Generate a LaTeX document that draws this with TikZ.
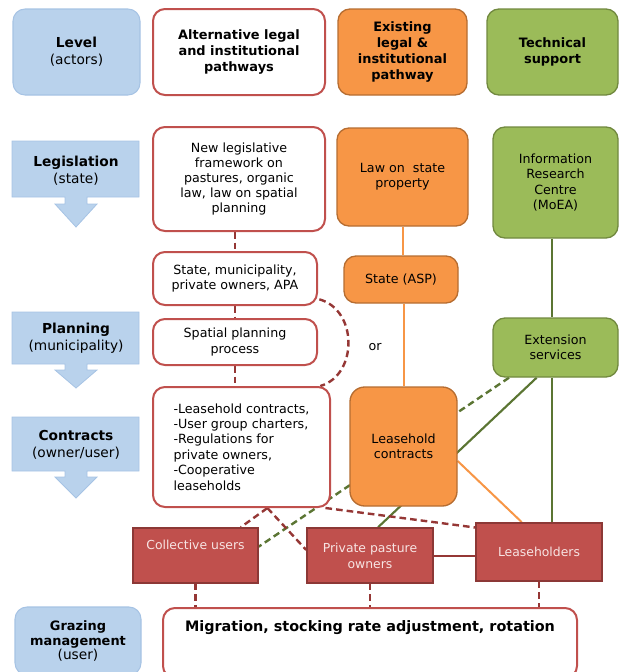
\documentclass[tikz,border=0pt]{standalone}
\usepackage{fontspec}
\setmainfont{DejaVu Sans}
\usepackage{tikz}
\usetikzlibrary{backgrounds}

\definecolor{lvlblue}{HTML}{B9D2EC}
\definecolor{lvlline}{HTML}{A6C3E4}
\definecolor{altred}{HTML}{C0504D}
\definecolor{dashred}{HTML}{953735}
\definecolor{exorange}{HTML}{F79646}
\definecolor{exline}{HTML}{B66D31}
\definecolor{techgreen}{HTML}{9BBB59}
\definecolor{techline}{HTML}{71893F}
\definecolor{linegreen}{HTML}{5B7533}
\definecolor{userline}{HTML}{8C3836}
\definecolor{usertext}{HTML}{F7E4E3}

\tikzset{
  sz/.style 2 args={minimum width=#1*0.75pt,minimum height=#2*0.75pt},
  txt/.style={inner sep=0pt,align=center,font=\fontsize{9.5}{11.3}\selectfont},
  head/.style={font=\fontsize{9.7}{12}\selectfont\bfseries},
  lvltxt/.style={inner sep=0pt,align=center,font=\fontsize{10.3}{13}\selectfont},
  lvlbox/.style={txt,fill=lvlblue,draw=lvlline,line width=0.8pt,rounded corners=9pt},
  lvlarrow/.style={fill=lvlblue,draw=lvlline,line width=0.6pt},
  altbox/.style={txt,fill=white,draw=altred,line width=1.5pt,rounded corners=9pt},
  exbox/.style={txt,fill=exorange,draw=exline,line width=1pt,rounded corners=9pt},
  techbox/.style={txt,fill=techgreen,draw=techline,line width=1pt,rounded corners=9pt},
  userbox/.style={txt,font=\fontsize{9.3}{12}\selectfont,fill=altred,draw=userline,line width=1.2pt,text=usertext},
  reddash/.style={draw=dashred,line width=1.8pt,dash pattern=on 5pt off 3pt},
  redline/.style={draw=dashred,line width=1.5pt},
  orline/.style={draw=exorange,line width=1.5pt},
  grline/.style={draw=linegreen,line width=1.6pt},
  grdash/.style={grline,line width=1.8pt,dash pattern=on 5pt off 3pt}
}

\begin{document}
\begin{tikzpicture}[x=0.75pt,y=-0.75pt]
  \useasboundingbox (0,0) rectangle (626,672);
  \clip (0,0) rectangle (626,672);

  %level arrows
  \foreach \t/\b/\s/\p in {141/197/204/227, 312/364/370/388, 417/471/477/498}
    \draw[lvlarrow] (12,\t) -- (139,\t) -- (139,\b) -- (87,\b) -- (87,\s) -- (97,\s)
      -- (76,\p) -- (55,\s) -- (65,\s) -- (65,\b) -- (12,\b) -- cycle;
  \node[lvltxt,at={(76,171)}] (legis) {\textbf{Legislation}\\(state)};
  \node[lvltxt,at={(76,338)}] (plan) {\textbf{Planning}\\(municipality)};
  \node[lvltxt,at={(76,445)}] (contract) {\textbf{Contracts}\\(owner/user)};

  %header row
  \node[lvlbox,sz={127}{86},at={(76.5,52)},font=\fontsize{10.3}{13}\selectfont] (lvl) {\textbf{Level}\\(actors)};
  \node[altbox,head,sz={172}{86},at={(239,52)}] (alt) {Alternative legal\\and institutional\\pathways};
  \node[exbox,head,sz={129}{86},at={(402.5,52)}] (exist) {Existing\\legal \&\\institutional\\pathway};
  \node[techbox,head,sz={131}{86},at={(552.5,52)}] (tech) {Technical\\support};

  %alternative pathway
  \node[altbox,sz={172}{104},at={(239,179)}] (newleg) {New legislative\\framework on\\pastures, organic\\law, law on spatial\\planning};
  \node[altbox,sz={164}{53},at={(235,278.5)}] (actors) {State, municipality,\\private owners, APA};
  \node[altbox,sz={164}{46},at={(235,342)}] (spatial) {Spatial planning\\process};
  \node[altbox,sz={177}{120},at={(241.5,447)},align=left,font=\fontsize{9.5}{11.6}\selectfont] (contr)
    {-Leasehold contracts,\\-User group charters,\\-Regulations for\\private owners,\\-Cooperative\\leaseholds};

  %existing pathway
  \node[exbox,sz={131}{98},at={(402.5,177)}] (lawstate) {Law on\ \ state\\property};
  \node[exbox,sz={114}{47},at={(401,279.5)}] (asp) {State (ASP)};
  \node[exbox,sz={107}{119},at={(403.5,446.5)},rounded corners=11pt] (leasec) {Leasehold\\contracts};
  \node[txt,at={(375,347)}] (ortxt) {or};

  %technical support
  \node[techbox,sz={125}{111},at={(555.5,182.5)}] (irc) {Information\\Research\\Centre\\(MoEA)};
  \node[techbox,sz={125}{59},at={(555.5,347.5)}] (ext) {Extension\\services};

  %users
  \node[userbox,sz={125}{55},at={(195.5,555.5)}] (coll) {Collective users\\\strut};
  \node[userbox,sz={126}{55},at={(370,555.5)}] (priv) {Private pasture\\owners};
  \node[userbox,sz={126}{58},at={(539,552)}] (lease) {Leaseholders};

  %grazing management
  \node[lvlbox,sz={126}{68},at={(78,641)},font=\fontsize{9.7}{11}\selectfont] (graze)
    {\textbf{Grazing}\\\textbf{management}\\{\fontsize{10.3}{13}\selectfont(user)}};
  \node[altbox,sz={414}{70},at={(370,643)},font=\fontsize{10.8}{13}\selectfont\bfseries] (migr)
    {Migration, stocking rate adjustment, rotation\\[9pt]\strut};

  %connectors
  \begin{scope}[on background layer]
    \draw[reddash] (actors.north |- newleg.south) -- (actors.north);
    \draw[reddash] (actors.south) -- (spatial.north);
    \draw[reddash] (spatial.south) -- (spatial.south |- contr.north);
    \draw[reddash] ([xshift=1pt,yshift=5pt]actors.south east) .. controls (358,310) and (358,375) .. ([xshift=-8pt]contr.north east);
    \draw[orline] (lawstate.south) -- (lawstate.south |- asp.north);
    \draw[orline] (asp.south -| leasec.north) -- (leasec.north);
    \draw[orline] (leasec.-15) -- (lease.120);
    \draw[grline] ([xshift=-2.5pt]irc.south) -- ([xshift=-2.5pt]ext.north);
    \draw[grline] ([xshift=-2.5pt]ext.south) -- ([xshift=-2.5pt]ext.south |- lease.north);
    \draw[grline] (ext.-122) -- (priv.74);
    \draw[grdash] (ext.-147) -- (coll.8);
    \draw[reddash] (contr.-67) -- (coll.32);
    \draw[reddash] (contr.-67) -- (priv.175);
    \draw[reddash] (contr.-36) -- (lease.159);
    \draw[redline] (priv.east) -- (priv.east -| lease.west);
    \draw[reddash] (coll.south) -- (coll.south |- migr.north);
    \draw[reddash] (priv.south) -- (priv.south |- migr.north);
    \draw[reddash] (lease.south) -- (lease.south |- migr.north);
  \end{scope}
\end{tikzpicture}
\end{document}
